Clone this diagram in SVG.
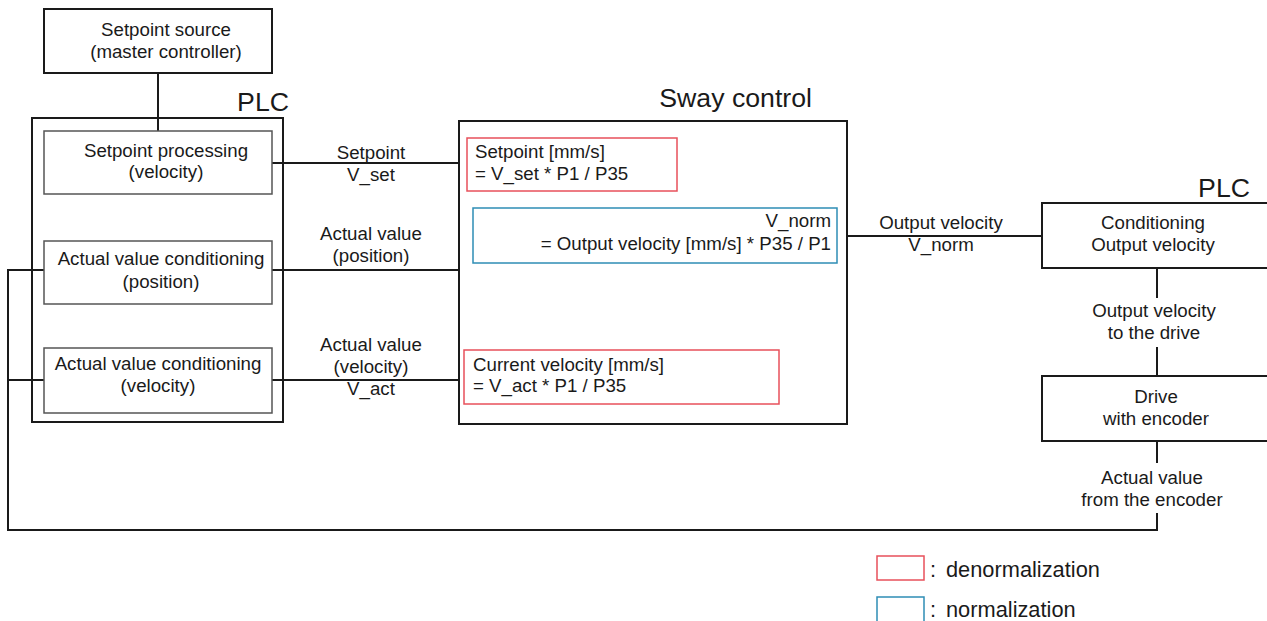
<svg xmlns="http://www.w3.org/2000/svg" width="1267" height="621" viewBox="0 0 1267 621">
<style>
text{font-family:"Liberation Sans",Arial,sans-serif;font-size:18.7px;fill:#1a1a1a}
.c{text-anchor:middle}
.r{text-anchor:end}
.big{font-size:26.7px}
.leg{font-size:21.8px}
.box{fill:#fff;stroke:#1a1a1a;stroke-width:2}
.inner{fill:#fff;stroke:#555;stroke-width:1.5}
.red{fill:#fff;stroke:#e8505b;stroke-width:1.5}
.blue{fill:#fff;stroke:#2e8db5;stroke-width:1.5}
.ln{fill:none;stroke:#1a1a1a;stroke-width:2}
</style>
<rect width="1267" height="621" fill="#fff"/>
<g id="plc-left">
<rect class="box" x="32" y="118" width="251" height="304"/>
<text class="big r" x="289" y="111">PLC</text>
</g>
<g id="sway">
<rect class="box" x="459" y="121" width="388" height="303"/>
<text class="big r" x="812" y="107">Sway control</text>
</g>
<g id="connectors">
<path class="ln" d="M158 73V131"/>
<path class="ln" d="M272 163H459"/>
<path class="ln" d="M272 270H459"/>
<path class="ln" d="M272 380H459"/>
<path class="ln" d="M847 236H1042"/>
<path class="ln" d="M44 270H8V530H1157V513"/>
<path class="ln" d="M8 380H44"/>
<path class="ln" d="M1157 268V298M1157 347V376M1157 441V463"/>
</g>
<g id="source">
<rect class="box" x="44" y="9" width="228" height="64"/>
<text class="c" x="166" y="36">Setpoint source</text>
<text class="c" x="166" y="58">(master controller)</text>
</g>
<g id="sp-proc">
<rect class="inner" x="44" y="131" width="228" height="63"/>
<text class="c" x="166" y="157">Setpoint processing</text>
<text class="c" x="166" y="178">(velocity)</text>
</g>
<g id="av-pos">
<rect class="inner" x="44" y="241" width="228" height="63"/>
<text class="c" x="161" y="265">Actual value conditioning</text>
<text class="c" x="161" y="288">(position)</text>
</g>
<g id="av-vel">
<rect class="inner" x="44" y="348" width="228" height="65"/>
<text class="c" x="158" y="370">Actual value conditioning</text>
<text class="c" x="158" y="392">(velocity)</text>
</g>
<g id="labels">
<text class="c" x="371" y="159">Setpoint</text>
<text class="c" x="371" y="181">V_set</text>
<text class="c" x="371" y="240">Actual value</text>
<text class="c" x="371" y="262">(position)</text>
<text class="c" x="371" y="351">Actual value</text>
<text class="c" x="371" y="373">(velocity)</text>
<text class="c" x="371" y="395">V_act</text>
<text class="c" x="941" y="229">Output velocity</text>
<text class="c" x="941" y="251">V_norm</text>
<text class="c" x="1154" y="317">Output velocity</text>
<text class="c" x="1154" y="339">to the drive</text>
<text class="c" x="1152" y="484">Actual value</text>
<text class="c" x="1152" y="506">from the encoder</text>
</g>
<g id="sp-denorm">
<rect class="red" x="467" y="138" width="210" height="53"/>
<text x="475" y="158">Setpoint [mm/s]</text>
<text x="475" y="180">= V_set * P1 / P35</text>
</g>
<g id="norm">
<rect class="blue" x="473" y="208" width="364" height="55"/>
<text class="r" x="831" y="227">V_norm</text>
<text class="r" x="831" y="250">= Output velocity [mm/s] * P35 / P1</text>
</g>
<g id="cv-denorm">
<rect class="red" x="464" y="350" width="315" height="54"/>
<text x="473" y="371">Current velocity [mm/s]</text>
<text x="473" y="392">= V_act * P1 / P35</text>
</g>
<g id="plc-right">
<text class="big r" x="1250" y="197">PLC</text>
</g>
<g id="conditioning">
<rect class="box" x="1042" y="203" width="230" height="65"/>
<text class="c" x="1153" y="229">Conditioning</text>
<text class="c" x="1153" y="251">Output velocity</text>
</g>
<g id="drive">
<rect class="box" x="1042" y="376" width="230" height="65"/>
<text class="c" x="1156" y="403">Drive</text>
<text class="c" x="1156" y="425">with encoder</text>
</g>
<g id="legend">
<rect class="red" x="877" y="556" width="47" height="24"/>
<text class="leg" x="930" y="577">:</text>
<text class="leg" x="946" y="577">denormalization</text>
<rect class="blue" x="877" y="597" width="47" height="28"/>
<text class="leg" x="930" y="617">:</text>
<text class="leg" x="946" y="617">normalization</text>
</g>
</svg>
